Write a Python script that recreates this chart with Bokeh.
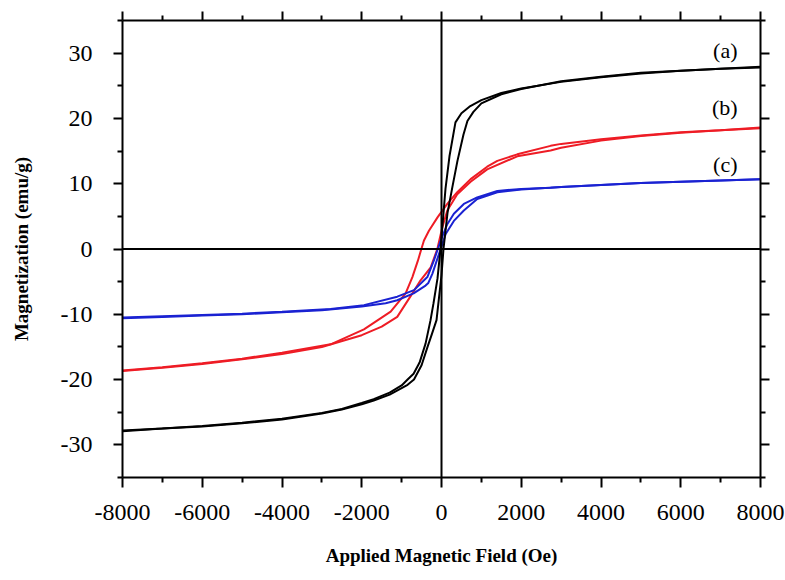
from bokeh.plotting import figure
from bokeh.models import LinearAxis, FixedTicker, Span, Range1d, Label
from bokeh.embed import file_html
from bokeh.resources import INLINE

# ---- data ----
x_major = [-8000, -6000, -4000, -2000, 0, 2000, 4000, 6000, 8000]
x_minor = [-7000, -5000, -3000, -1000, 1000, 3000, 5000, 7000]
y_major = [-30, -20, -10, 0, 10, 20, 30]
y_minor = [-35, -25, -15, -5, 5, 15, 25, 35]

# (a) black loop: descending-field branch
a_down_H = [8000, 7000, 6000, 5000, 4000, 3000, 2000, 1500, 1000, 700, 500, 350, 200, 100, 0,
            -25, -100, -200, -275, -400, -550, -700, -850, -1000, -1300, -1700, -2000, -2500,
            -3000, -4000, -5000, -6000, -7000, -8000]
a_down_M = [27.9, 27.6, 27.3, 26.9, 26.3, 25.6, 24.6, 23.9, 22.8, 21.8, 20.8, 19.4, 14.2, 9.2, 1.8,
            0.0, -4.5, -8.3, -10.9, -14.5, -17.4, -19.1, -20.0, -20.9, -22.0, -23.0, -23.6, -24.5,
            -25.1, -26.0, -26.6, -27.1, -27.5, -27.8]
# (a) black loop: ascending-field branch
a_up_H = [-8000, -7000, -6000, -5000, -4000, -3000, -2500, -2000, -1700, -1300, -1000, -850, -690,
          -500, -350, -250, -125, 0, 50, 150, 270, 400, 550, 650, 800, 1000, 1500, 2000, 3000,
          4000, 5000, 6000, 7000, 8000]
a_up_M = [-27.9, -27.5, -27.2, -26.7, -26.1, -25.2, -24.6, -23.8, -23.2, -22.3, -21.3, -20.8, -20.0,
          -17.8, -15.0, -13.2, -10.9, -4.0, 0.0, 5.5, 9.4, 13.5, 17.5, 19.6, 21.0, 22.3, 23.7, 24.5,
          25.7, 26.4, 27.0, 27.3, 27.6, 27.8]

# (b) red loop
b_down_H = [8000, 7000, 6000, 5000, 4000, 3000, 2735, 1900, 1400, 1145, 730, 395, 145, -100, -315,
            -440, -505, -590, -730, -900, -1275, -1945, -2780, -4000, -5000, -6000, -7000, -8000]
b_down_M = [18.6, 18.2, 17.9, 17.4, 16.8, 16.1, 15.8, 14.5, 13.5, 12.6, 10.7, 8.7, 6.9, 4.85, 2.8,
            1.3, 0.0, -1.75, -4.3, -6.8, -9.6, -12.3, -14.6, -15.9, -16.8, -17.5, -18.1, -18.6]
b_up_H = [-8000, -7000, -6000, -5000, -4000, -3000, -2000, -1500, -1110, -730, -525, -270, -105,
          20, 145, 395, 730, 1145, 1900, 2735, 3000, 4000, 5000, 6000, 7000, 8000]
b_up_M = [-18.7, -18.2, -17.6, -16.9, -16.1, -15.0, -13.2, -11.9, -10.4, -6.8, -4.8, -2.8, 0.0,
          3.3, 5.9, 8.4, 10.3, 12.2, 14.2, 15.1, 15.5, 16.6, 17.3, 17.8, 18.2, 18.5]

# (c) blue loop
c_down_H = [8000, 7000, 6000, 5000, 4000, 3000, 2735, 2000, 1400, 895, 560, 310, 145, -20, -190,
            -355, -690, -1110, -1945, -2780, -4000, -5000, -6000, -7000, -8000]
c_down_M = [10.7, 10.5, 10.3, 10.1, 9.8, 9.5, 9.4, 9.2, 8.9, 7.9, 6.9, 5.4, 3.8, 1.3, -1.75,
            -4.3, -6.3, -7.3, -8.6, -9.2, -9.6, -9.9, -10.1, -10.3, -10.5]
c_up_H = [-8000, -7000, -6000, -5000, -4000, -3000, -2000, -1400, -1110, -700, -400, -330, -230,
          -60, 105, 310, 560, 895, 1400, 2000, 3000, 4000, 5000, 6000, 7000, 8000]
c_up_M = [-10.6, -10.4, -10.2, -10.0, -9.7, -9.4, -8.8, -8.3, -7.85, -6.8, -5.6, -5.2, -3.8,
          -0.7, 2.3, 4.3, 5.9, 7.65, 8.7, 9.1, 9.5, 9.8, 10.1, 10.3, 10.5, 10.7]

curve_labels = ["(a)", "(b)", "(c)"]
label_M = [30.4, 21.7, 13.0]

FONT = "Liberation Serif"

p = figure(width=785, height=580, x_range=Range1d(-8000, 8000), y_range=Range1d(-35, 35),
           output_backend="svg", toolbar_location=None,
           min_border_left=122, min_border_right=25, min_border_top=20, min_border_bottom=103,
           background_fill_color="white", border_fill_color="white")
p.outline_line_color = None
p.xgrid.visible = False
p.ygrid.visible = False

xt = FixedTicker(ticks=x_major, minor_ticks=x_minor)
yt = FixedTicker(ticks=y_major, minor_ticks=y_minor)

def style(ax, ticker, ticks, labels=True):
    ax.ticker = ticker
    ax.axis_line_color = "black"
    ax.axis_line_width = 2
    ax.major_tick_line_color = "black"
    ax.major_tick_line_width = 2
    ax.minor_tick_line_color = "black"
    ax.minor_tick_line_width = 2
    ax.major_tick_in = 0
    ax.minor_tick_in = 0
    ax.major_tick_out = 9
    ax.minor_tick_out = 5
    if labels:
        ax.major_label_overrides = {t: str(t) for t in ticks}
        ax.major_label_text_font = FONT
        ax.major_label_text_font_size = "24px"
        ax.major_label_text_color = "black"
        ax.axis_label_text_font = FONT
        ax.axis_label_text_font_style = "bold"
        ax.axis_label_text_font_size = "19px"
        ax.axis_label_text_color = "black"
    else:
        ax.major_label_text_color = None
        ax.major_label_standoff = 0
        ax.axis_label = None

xb = p.xaxis[0]
style(xb, xt, x_major)
xb.major_tick_out = 10
xb.axis_label = "Applied Magnetic Field (Oe)"
xb.major_label_standoff = 17
xb.axis_label_standoff = 22

yl = p.yaxis[0]
style(yl, yt, y_major)
yl.axis_label = "Magnetization (emu/g)"
yl.major_label_standoff = 21
yl.axis_label_standoff = 26

xa = LinearAxis()
style(xa, xt, x_major, labels=False)
p.add_layout(xa, "above")
yr = LinearAxis()
style(yr, yt, y_major, labels=False)
p.add_layout(yr, "right")

p.add_layout(Span(location=0, dimension="height", line_color="black", line_width=2))
p.add_layout(Span(location=0, dimension="width", line_color="black", line_width=2))

RED = "#ee1c25"
BLUE = "#1a22d2"
for H, M, col in [(b_down_H, b_down_M, RED), (b_up_H, b_up_M, RED),
                  (c_down_H, c_down_M, BLUE), (c_up_H, c_up_M, BLUE),
                  (a_down_H, a_down_M, "black"), (a_up_H, a_up_M, "black")]:
    p.line(H, M, line_color=col, line_width=2)

for txt, m in zip(curve_labels, label_M):
    p.add_layout(Label(x=7424, y=m, text=txt, text_align="right", text_baseline="middle",
                       text_font=FONT, text_font_size="22px", text_color="black"))

open("out.html", "w").write(file_html(p, INLINE))
